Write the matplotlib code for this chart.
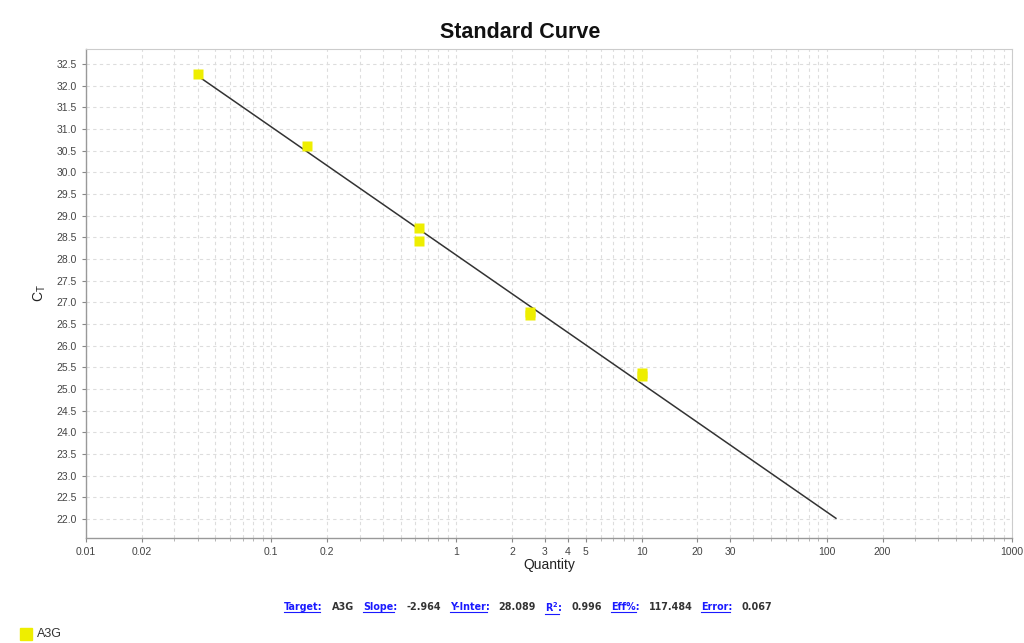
import numpy as np
import matplotlib.pyplot as plt
from matplotlib.ticker import FixedLocator, NullFormatter

# standard curve points (4-fold dilutions)
quantity = [0.04, 0.156, 0.625, 0.625, 2.5, 2.5, 10.0, 10.0]
ct = [32.27, 30.60, 28.71, 28.42, 26.77, 26.70, 25.36, 25.29]

# regression summary
target = "A3G"
slope = -2.964
y_inter = 28.089
r2 = 0.996
eff = 117.484
error = 0.067
line_x = [0.04, 112.0]

x_ticks = [0.01, 0.02, 0.1, 0.2, 1, 2, 3, 4, 5, 10, 20, 30, 100, 200, 1000]
x_tick_labels = ["0.01", "0.02", "0.1", "0.2", "1", "2", "3", "4", "5",
                 "10", "20", "30", "100", "200", "1000"]
y_ticks = np.arange(22.0, 32.51, 0.5)

plt.rcParams['font.family'] = ['Liberation Sans', 'DejaVu Sans']

fig = plt.figure(figsize=(10.24, 6.43), dpi=100)
ax = fig.add_axes([86 / 1024, 1 - 538 / 643, 926 / 1024, 489 / 643])

ax.set_xscale('log')
ax.set_xlim(0.01, 1000)
ax.set_ylim(21.56, 32.85)

# fitted line
line_y = [y_inter + slope * np.log10(v) for v in line_x]
ax.plot(line_x, line_y, color='#333333', lw=1.1, zorder=3)

ax.plot(quantity, ct, ls='none', marker='s', ms=7.4, mfc='#eeee00',
        mec='none', zorder=4)

# ticks and grid
ax.xaxis.set_major_locator(FixedLocator(x_ticks))
ax.set_xticklabels(x_tick_labels)
minor = [m * 10.0 ** e for e in range(-2, 3) for m in range(2, 10)]
ax.xaxis.set_minor_locator(FixedLocator(minor))
ax.xaxis.set_minor_formatter(NullFormatter())
ax.set_yticks(y_ticks)
ax.set_yticklabels([f"{v:.1f}" for v in y_ticks])

ax.tick_params(axis='both', which='major', labelsize=7.5, colors='#888888',
               labelcolor='#444444', length=3, width=0.8, direction='out')
ax.tick_params(axis='x', which='minor', length=2, width=0.6, colors='#aaaaaa')
ax.grid(True, which='both', color='#dddddd', ls=(0, (3, 3)), lw=0.8)
ax.set_axisbelow(True)

for s in ['top', 'right']:
    ax.spines[s].set_color('#cccccc')
    ax.spines[s].set_linewidth(0.8)
for s in ['left', 'bottom']:
    ax.spines[s].set_color('#999999')
    ax.spines[s].set_linewidth(1.0)

ax.set_xlabel("Quantity", fontsize=10, color='#222222', labelpad=1)
ax.set_ylabel(r"C$_\mathregular{T}$", fontsize=10, color='#222222', labelpad=6)

fig.text(520 / 1024, 1 - 32 / 643, "Standard Curve", ha='center', va='center',
         fontsize=15.5, fontweight='bold', color='#111111')

# statistics line under the chart
pieces = [("Target:", True), (target, False),
          ("Slope:", True), (f"{slope:.3f}", False),
          ("Y-Inter:", True), (f"{y_inter:.3f}", False),
          (r"R$^\mathregular{2}$:", True), (f"{r2:.3f}", False),
          ("Eff%:", True), (f"{eff:.3f}", False),
          ("Error:", True), (f"{error:.3f}", False)]

renderer = fig.canvas.get_renderer()
y_stats = 1 - 607 / 643
x_cursor = 284 / 1024
for label, is_link in pieces:
    t = fig.text(x_cursor, y_stats, label, ha='left', va='center',
                 fontsize=6.9, fontweight='bold', family='DejaVu Sans',
                 color='#1a1aff' if is_link else '#333333')
    bb = t.get_window_extent(renderer).transformed(fig.transFigure.inverted())
    if is_link:
        fig.add_artist(plt.Line2D([bb.x0, bb.x1 - 0.003], [bb.y0 + 0.0005] * 2,
                                  transform=fig.transFigure, color='#1a1aff',
                                  lw=0.8))
    x_cursor = bb.x1 + 9 / 1024

# legend
fig.patches.append(plt.Rectangle((20 / 1024, 1 - 640 / 643), 12 / 1024, 12 / 643,
                                 transform=fig.transFigure, color='#eeee00'))
fig.text(37 / 1024, 1 - 634 / 643, target, ha='left', va='center',
         fontsize=9, color='#333333')

fig.savefig("out.png", dpi=100)
